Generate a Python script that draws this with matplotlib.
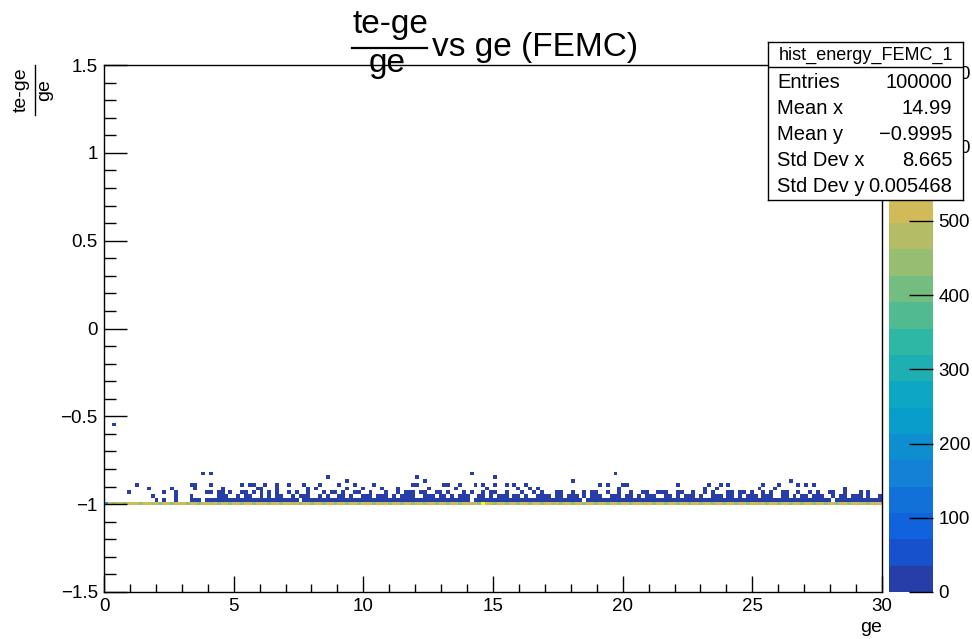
import numpy as np
import matplotlib
matplotlib.use("Agg")
import matplotlib.pyplot as plt
from matplotlib.colors import LinearSegmentedColormap, ListedColormap, BoundaryNorm
from matplotlib.ticker import MultipleLocator
from matplotlib.lines import Line2D

plt.rcParams['font.family'] = ['Liberation Sans', 'DejaVu Sans']

# hist_energy_FEMC_1 binning
nx, x_lo, x_hi = 200, 0.0, 30.0
ny, y_lo, y_hi = 140, -1.5, 1.5

# entries at (te-ge)/ge = -1, one per ge bin
line_counts = [
    240, 512, 448, 520, 506, 441, 515, 527, 503, 452, 518, 509, 476, 524, 439, 511, 505, 446, 529, 514,
    502, 455, 517, 508, 433, 521, 512, 486, 526, 449, 507, 519, 444, 513, 501, 458, 523, 510, 437, 516,
    528, 504, 451, 519, 511, 442, 506, 525, 481, 513, 447, 520, 508, 455, 517, 530, 443, 502, 514, 459,
    509, 523, 440, 515, 506, 453, 527, 500, 518, 445, 512, 490, 521, 438, 507, 516, 456, 524, 503, 448,
    519, 511, 444, 526, 502, 457, 514, 508, 436, 522, 517, 450, 505, 529, 471, 513, 446, 710, 520, 501,
    454, 516, 509, 442, 525, 512, 458, 503, 519, 449, 527, 507, 440, 514, 522, 484, 510, 445, 518, 506,
    459, 521, 513, 438, 508, 526, 451, 515, 502, 447, 520, 511, 456, 528, 504, 443, 517, 509, 478, 523,
    512, 446, 506, 519, 453, 524, 501, 439, 515, 527, 457, 510, 518, 444, 505, 521, 452, 513, 507, 441,
    526, 503, 458, 517, 510, 448, 522, 514, 487, 509, 443, 525, 506, 455, 519, 512, 437, 528, 501, 450,
    515, 508, 445, 523, 511, 459, 504, 520, 442, 516, 527, 453, 509, 518, 474, 506, 447, 524, 512, 502,
]

# ge bins (0.15 wide) holding a few entries just above -1, by ratio value;
# '#' marks an occupied ge bin
dense_rows = {
    -0.985: ["......................###.#####.#",
             "##.######.#######.######.#####.###",
             "#####.########.#######.####.#####",
             "######.#########.######.#####.####",
             "####.#######.########.####.######",
             "#######.#####.######.######.#####"],
    -0.970: [".............#.#..#.......###.###",
             "#.###.##.####.###.#####.##.####.##",
             "###.#####.###.######.##.###.####.",
             "####.#######.##.#######.###.######",
             "###.####.#####.###.######.##.####",
             "#####.####.###.#####.###.########"],
    -0.955: ["............#.....#...#......###.",
             ".#.##..#.#.##..#.###..#.#..##.#..#",
             "##.###.#.####..###.##.#.###..##.#",
             ".###.##.#..####.##.###.#.###..###.",
             "##.#.###..##.#.###.#..###.##.#.##",
             "#.###..##.#.##.###..#.##.###.#..#"],
    -0.940: ["......#........#..#.......##....#",
             "..#..#.#...#..#.#..#...#.#..#...#.",
             ".#...#..#.#...##..#..#...#.#..#.#",
             "#..#...#..#.#...#...#..#.#...#..#.",
             ".#..#...#.#..#...#..#.#...#..#..#",
             "..#.#..#...#..#.#...#..#...#.#..."],
}
# sparser entries further up: ge bin indices per ratio value
sparse_rows = {
    -0.925: [29, 30, 35, 36, 42, 47, 56, 59, 64, 78, 79, 86, 92, 99, 117, 126, 129,
             135, 139, 143, 148, 151, 161, 164, 175, 186, 194],
    -0.910: [11, 17, 23, 30, 39, 40, 44, 52, 54, 62, 66, 71, 75, 83, 90, 98, 106, 109,
             111, 132, 154, 157, 168, 172, 190],
    -0.895: [22, 23, 27, 37, 38, 41, 47, 51, 60, 64, 69, 87, 88, 91, 95, 100, 105, 108,
             127, 129, 147, 155, 160, 173, 180],
    -0.880: [8, 35, 44, 55, 79, 80, 97, 103, 133, 134, 158, 169, 178, 182],
    -0.865: [62, 82, 120, 176],
    -0.850: [57, 80, 100],
    -0.835: [25, 94],
    -0.820: [27, 131],
}
few_entries = 3
stray_entry = (0.3, -0.545)

x_ticks = [0, 5, 10, 15, 20, 25, 30]
y_ticks = [-1.5, -1, -0.5, 0, 0.5, 1, 1.5]
y_tick_labels = ['\u22121.5', '\u22121', '\u22120.5', '0', '0.5', '1', '1.5']
z_ticks = [0, 100, 200, 300, 400, 500, 600, 700]

stats_title = 'hist_energy_FEMC_1'
stats = [('Entries', '100000'), ('Mean x', '14.99'), ('Mean y', '\u22120.9995'),
         ('Std Dev x', '8.665'), ('Std Dev y', '0.005468')]

# fill the 2D histogram
xedges = np.linspace(x_lo, x_hi, nx + 1)
yedges = np.linspace(y_lo, y_hi, ny + 1)
xcent = 0.5 * (xedges[:-1] + xedges[1:])

gx, gy, gw = list(xcent), [-1.0] * nx, list(line_counts)
for ratio, chunks in dense_rows.items():
    row = ''.join(chunks).ljust(nx, '.')[:nx]
    for ix, ch in enumerate(row):
        if ch == '#':
            gx.append(xcent[ix]); gy.append(ratio); gw.append(few_entries)
for ratio, bins in sparse_rows.items():
    for ix in bins:
        gx.append(xcent[ix]); gy.append(ratio); gw.append(few_entries)
gx.append(stray_entry[0]); gy.append(stray_entry[1]); gw.append(few_entries)

Z, _, _ = np.histogram2d(gx, gy, bins=[xedges, yedges], weights=gw)
Z = Z.T

# ROOT kBird palette, 20 contour levels
stops = [0.0, 0.125, 0.25, 0.375, 0.5, 0.625, 0.75, 0.875, 1.0]
red = [0.2082, 0.0592, 0.0780, 0.0232, 0.1802, 0.5301, 0.8186, 0.9956, 0.9764]
green = [0.1664, 0.3599, 0.5041, 0.6419, 0.7178, 0.7492, 0.7328, 0.7862, 0.9832]
blue = [0.5293, 0.8684, 0.8385, 0.7914, 0.6425, 0.4662, 0.3499, 0.1968, 0.0539]
bird = LinearSegmentedColormap.from_list(
    'bird', [(s, (r, g, b)) for s, r, g, b in zip(stops, red, green, blue)], N=255)
ncont = 20
level_colors = [bird(int((i + 0.99) * 255 / ncont)) for i in range(ncont)]
cmap = ListedColormap(level_colors)
zmax = Z.max()
norm = BoundaryNorm(np.linspace(0, zmax, ncont + 1), ncont)

W, H = 972, 639
fig = plt.figure(figsize=(W / 100, H / 100), dpi=100)
fx = lambda px: px / W
fy = lambda py: 1 - py / H

ax = fig.add_axes([fx(104), fy(592), 778 / W, 527 / H])
mesh = ax.pcolormesh(xedges, yedges, np.ma.masked_equal(Z, 0), cmap=cmap, norm=norm,
                     shading='flat', edgecolors='none', antialiased=False)
ax.set_xlim(x_lo, x_hi)
ax.set_ylim(y_lo, y_hi)
ax.set_xticks(x_ticks)
ax.set_xticklabels([str(t) for t in x_ticks])
ax.set_yticks(y_ticks)
ax.set_yticklabels(y_tick_labels)
ax.xaxis.set_minor_locator(MultipleLocator(1))
ax.yaxis.set_minor_locator(MultipleLocator(0.1))
ax.tick_params(axis='x', which='major', direction='in', length=11.4, width=1,
               pad=4.5, labelsize=13.5, top=False)
ax.tick_params(axis='x', which='minor', direction='in', length=5.7, width=1, top=False)
ax.tick_params(axis='y', which='major', direction='in', length=16.5, width=1,
               pad=4.5, labelsize=13.5, right=False)
ax.tick_params(axis='y', which='minor', direction='in', length=8.3, width=1, right=False)
for sp in ax.spines.values():
    sp.set_linewidth(1)

# palette
cax = fig.add_axes([fx(889), fy(592), 44 / W, 527 / H])
cb = fig.colorbar(mesh, cax=cax)
cb.outline.set_visible(False)
cb.minorticks_off()
cb.set_ticks(z_ticks)
cb.set_ticklabels([str(t) for t in z_ticks])
cax.yaxis.set_ticks_position('right')
cax.tick_params(direction='in', length=17, width=1, labelsize=13.5, pad=4)

# stats box (covers the top of the palette)
sax = fig.add_axes([fx(768), fy(200), 195 / W, 158 / H])
sax.set_zorder(5)
sax.set_facecolor('white')
sax.set_xticks([])
sax.set_yticks([])
for sp in sax.spines.values():
    sp.set_linewidth(1)
sax.set_xlim(0, 1)
sax.set_ylim(0, 1)
sax.axhline((200 - 67) / 158, color='black', lw=1)
sax.text(0.5, (200 - 55) / 158, stats_title, ha='center', va='center', fontsize=13)
for i, (name, val) in enumerate(stats):
    yy = (200 - (83 + 25.8 * i)) / 158
    sax.text(0.046, yy, name, ha='left', va='center', fontsize=14.5)
    sax.text(0.945, yy, val, ha='right', va='center', fontsize=14.5)

# title: (te-ge)/ge vs ge (FEMC)
fig.text(fx(390), fy(33), 'te-ge', ha='center', va='baseline', fontsize=24)
fig.add_artist(Line2D([fx(352), fx(427)], [fy(48), fy(48)], color='black', lw=1.6))
fig.text(fx(387), fy(72), 'ge', ha='center', va='baseline', fontsize=24)
fig.text(fx(432), fy(56), 'vs ge (FEMC)', ha='left', va='baseline', fontsize=24)

# axis titles
fig.text(fx(21), fy(90), 'te-ge', rotation=90, ha='center', va='center', fontsize=14)
fig.add_artist(Line2D([fx(35), fx(35)], [fy(65), fy(115)], color='black', lw=1))
fig.text(fx(45), fy(90), 'ge', rotation=90, ha='center', va='center', fontsize=14)
fig.text(fx(882), fy(632), 'ge', ha='right', va='baseline', fontsize=14)

fig.savefig('out.png', dpi=100)
